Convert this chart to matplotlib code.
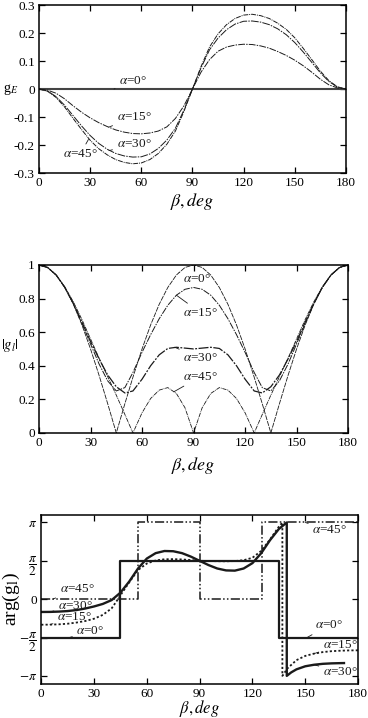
import matplotlib
matplotlib.use('Agg')
import matplotlib.pyplot as plt
import numpy as np

plt.rcParams['font.family'] = ['Liberation Serif', 'DejaVu Serif']
plt.rcParams['mathtext.fontset'] = 'stix'
plt.rcParams['axes.unicode_minus'] = False
plt.rcParams['font.size'] = 9.5
plt.rcParams['xtick.direction'] = 'in'
plt.rcParams['ytick.direction'] = 'in'
plt.rcParams['xtick.top'] = True
plt.rcParams['ytick.right'] = True
plt.rcParams['axes.linewidth'] = 1.1

# ---- panel 1: g_E vs beta (deg) ----
beta_e = list(range(0, 181, 5))
gE_0 = [0.0] * 37
gE_15 = [0, -0.004, -0.015, -0.035, -0.06, -0.083, -0.103, -0.12, -0.134, -0.146,
         -0.154, -0.159, -0.16, -0.157, -0.15, -0.135, -0.105, -0.06, 0,
         0.06, 0.105, 0.135, 0.15, 0.157, 0.16, 0.159, 0.154, 0.146, 0.134,
         0.12, 0.103, 0.083, 0.06, 0.035, 0.015, 0.004, 0]
gE_30 = [0, -0.007, -0.027, -0.058, -0.095, -0.132, -0.166, -0.194, -0.215, -0.23,
         -0.239, -0.243, -0.242, -0.232, -0.212, -0.182, -0.14, -0.075, 0,
         0.075, 0.14, 0.182, 0.212, 0.232, 0.242, 0.243, 0.239, 0.23, 0.215,
         0.194, 0.166, 0.132, 0.095, 0.058, 0.027, 0.007, 0]
gE_45 = [0, -0.008, -0.03, -0.064, -0.105, -0.145, -0.183, -0.213, -0.235, -0.252,
         -0.262, -0.267, -0.264, -0.252, -0.23, -0.197, -0.15, -0.08, 0,
         0.08, 0.15, 0.197, 0.23, 0.252, 0.264, 0.267, 0.262, 0.252, 0.235,
         0.213, 0.183, 0.145, 0.105, 0.064, 0.03, 0.008, 0]

# ---- panel 2: |g_l| vs beta ----
beta_l = [0, 5, 10, 15, 20, 25, 30, 35, 40, 45, 50, 54.7, 60, 65, 70, 75, 80, 85, 90,
          95, 100, 105, 110, 115, 120, 125.3, 130, 135, 140, 145, 150, 155, 160, 165, 170, 175, 180]
gl_0 = [1.0, 0.985, 0.94, 0.866, 0.766, 0.643, 0.5, 0.342, 0.174, 0.0, 0.174, 0.332, 0.5,
        0.643, 0.766, 0.866, 0.94, 0.985, 1.0,
        0.985, 0.94, 0.866, 0.766, 0.643, 0.5, 0.332, 0.174, 0.0, 0.174, 0.342, 0.5,
        0.643, 0.766, 0.866, 0.94, 0.985, 1.0]
gl_15 = [1.0, 0.985, 0.94, 0.866, 0.768, 0.652, 0.53, 0.41, 0.31, 0.25, 0.27, 0.36, 0.48,
         0.585, 0.68, 0.76, 0.82, 0.855, 0.866,
         0.855, 0.82, 0.76, 0.68, 0.585, 0.48, 0.36, 0.27, 0.25, 0.31, 0.41, 0.53,
         0.652, 0.768, 0.866, 0.94, 0.985, 1.0]
gl_30 = [1.0, 0.985, 0.94, 0.867, 0.772, 0.66, 0.545, 0.44, 0.345, 0.275, 0.238, 0.25, 0.32,
         0.40, 0.465, 0.503, 0.51, 0.505, 0.5,
         0.505, 0.51, 0.503, 0.465, 0.40, 0.32, 0.25, 0.238, 0.275, 0.345, 0.44, 0.545,
         0.66, 0.772, 0.867, 0.94, 0.985, 1.0]
gl_45 = [1.0, 0.985, 0.94, 0.87, 0.78, 0.675, 0.56, 0.445, 0.335, 0.225, 0.11, 0.0, 0.12,
         0.205, 0.255, 0.27, 0.235, 0.15, 0.0,
         0.15, 0.235, 0.27, 0.255, 0.205, 0.12, 0.0, 0.11, 0.225, 0.335, 0.445, 0.56,
         0.675, 0.78, 0.87, 0.94, 0.985, 1.0]

# ---- panel 3: arg(g_l) in units of pi ----
arg0_x = [0, 45, 45, 135, 135, 180]
arg0_y = [-0.5, -0.5, 0.5, 0.5, -0.5, -0.5]
arg45_x = [0, 54.7, 54.7, 90, 90, 125.3, 125.3, 180]
arg45_y = [0, 0, 1, 1, 0, 0, 1, 1]
arg15_x = [0, 5, 10, 15, 20, 25, 30, 35, 40, 43, 45, 50, 55, 60, 65, 70, 75, 80, 85, 90,
           95, 100, 105, 110, 115, 120, 125, 130, 135, 137, 137, 140, 145, 150, 155, 160,
           165, 170, 175, 180]
arg15_y = [-0.333, -0.332, -0.328, -0.32, -0.305, -0.285, -0.255, -0.205, -0.12, -0.02,
           0.05, 0.22, 0.38, 0.465, 0.505, 0.52, 0.522, 0.518, 0.51, 0.5,
           0.498, 0.495, 0.494, 0.497, 0.508, 0.54, 0.63, 0.78, 0.945, 1.0, -1.0,
           -0.9, -0.795, -0.74, -0.71, -0.69, -0.678, -0.672, -0.668, -0.667]
arg30_x = [0, 5, 10, 15, 20, 25, 30, 35, 40, 45, 50, 55, 60, 65, 70, 75, 80, 85, 90,
           95, 100, 105, 110, 115, 120, 125, 130, 135, 139.5, 139.5, 142, 145, 150, 155,
           160, 165, 170, 172]
arg30_y = [-0.167, -0.166, -0.162, -0.155, -0.142, -0.122, -0.095, -0.062, -0.012, 0.085,
           0.23, 0.40, 0.53, 0.60, 0.628, 0.625, 0.60, 0.555, 0.5,
           0.445, 0.40, 0.375, 0.372, 0.40, 0.47, 0.60, 0.77, 0.915, 1.0, -1.0,
           -0.955, -0.915, -0.875, -0.855, -0.843, -0.837, -0.834, -0.833]

ink = '#1a1a1a'
ls_0 = (0, (6, 1.2))
ls_15 = (0, (7, 1.2, 1.5, 1.2))
ls_30 = (0, (8, 1.2, 1.5, 1.2))
ls_45 = (0, (5, 1.0, 1.0, 1.0))

fig = plt.figure(figsize=(3.68, 7.18), dpi=100)


def lab(ax, text, xy, xytext):
    ax.annotate(text, xy=xy, xytext=xytext, fontsize=9.5, color=ink,
                va='center', ha='left',
                arrowprops=dict(arrowstyle='-', lw=0.6, color=ink,
                                shrinkA=1, shrinkB=0))


def style_x(ax):
    ax.set_xlim(0, 180)
    ax.set_xticks(range(0, 181, 30))
    ax.tick_params(length=4, width=0.9, pad=3, labelsize=9.5)
    ax.set_xlabel(r'$\beta,deg$', fontsize=13, labelpad=1)


# top
ax1 = fig.add_axes([0.106, 0.759, 0.834, 0.234])
ax1.plot(beta_e, gE_0, color='#444444', lw=1.5)
ax1.plot(beta_e, gE_15, color=ink, lw=0.7, ls=ls_15)
ax1.plot(beta_e, gE_30, color=ink, lw=0.7, ls=ls_30)
ax1.plot(beta_e, gE_45, color=ink, lw=0.7, ls=ls_45)
ax1.set_ylim(-0.3, 0.3)
ax1.set_yticks([-0.3, -0.2, -0.1, 0, 0.1, 0.2, 0.3])
ax1.set_yticklabels(['-0.3', '-0.2', '-0.1', '0', '0.1', '0.2', '0.3'])
style_x(ax1)
ax1.set_ylabel(r'g$_{\mathit{E}}$', rotation=0, fontsize=10, labelpad=2, va='center')
lab(ax1, r'$\alpha$=0°', (44, 0), (47, 0.03))
lab(ax1, r'$\alpha$=15°', (41, -0.136), (45.5, -0.10))
lab(ax1, r'$\alpha$=30°', (41, -0.22), (45.5, -0.198))
lab(ax1, r'$\alpha$=45°', (29, -0.18), (14, -0.232))

# middle
ax2 = fig.add_axes([0.106, 0.397, 0.840, 0.234])
ax2.plot(beta_l, gl_0, color=ink, lw=0.6, ls=ls_0)
ax2.plot(beta_l, gl_15, color=ink, lw=0.7, ls=ls_15)
ax2.plot(beta_l, gl_30, color=ink, lw=0.9, ls=ls_30)
ax2.plot(beta_l, gl_45, color=ink, lw=0.6, ls=ls_45)
ax2.set_ylim(0, 1)
ax2.set_yticks([0, 0.2, 0.4, 0.6, 0.8, 1])
ax2.set_yticklabels(['0', '0.2', '0.4', '0.6', '0.8', '1'])
style_x(ax2)
ax2.xaxis.labelpad = 4
ax2.set_ylabel(r'$|g_l|$', rotation=0, fontsize=10.5, va='center')
ax2.yaxis.set_label_coords(-0.095, 0.52)
lab(ax2, r'$\alpha$=0°', (81.5, 0.955), (84, 0.915))
lab(ax2, r'$\alpha$=15°', (80, 0.82), (84, 0.715))
lab(ax2, r'$\alpha$=30°', (79, 0.51), (84, 0.445))
lab(ax2, r'$\alpha$=45°', (78.5, 0.245), (84, 0.335))

# bottom
ax3 = fig.add_axes([0.112, 0.048, 0.861, 0.235])
ax3.plot(arg0_x, arg0_y, color=ink, lw=1.6)
ax3.plot(arg45_x, arg45_y, color=ink, lw=1.1, ls=(0, (6, 1.5, 1, 1.5, 1, 1.5)))
ax3.plot(arg15_x, arg15_y, color=ink, lw=1.3, ls=(0, (1.2, 1.2)))
ax3.plot(arg30_x, arg30_y, color=ink, lw=1.7)
ax3.set_ylim(-1.1, 1.1)
ax3.set_yticks([-1, -0.5, 0, 0.5, 1])
ax3.set_yticklabels([r'$-\pi$', r'$-\dfrac{\pi}{2}$', '0', r'$\dfrac{\pi}{2}$', r'$\pi$'],
                    fontsize=10.5)
style_x(ax3)
ax3.set_xlabel(r'$\beta,deg$', fontsize=12, labelpad=-1)
ax3.set_ylabel(r'arg(g$_\mathrm{l}$)', fontsize=14)
ax3.yaxis.set_label_coords(-0.062, 0.5)
lab(ax3, r'$\alpha$=45°', (6.5, 0), (10.5, 0.13))
lab(ax3, r'$\alpha$=30°', (5, -0.166), (9.5, -0.085))
lab(ax3, r'$\alpha$=15°', (5, -0.332), (9, -0.23))
lab(ax3, r'$\alpha$=0°', (16, -0.5), (20, -0.42))
lab(ax3, r'$\alpha$=45°', (150, 1), (154, 0.9))
lab(ax3, r'$\alpha$=0°', (151, -0.5), (155.5, -0.34))
lab(ax3, r'$\alpha$=15°', (155, -0.71), (160, -0.6))
lab(ax3, r'$\alpha$=30°', (155, -0.855), (160, -0.95))

fig.savefig('out.png', dpi=100)
